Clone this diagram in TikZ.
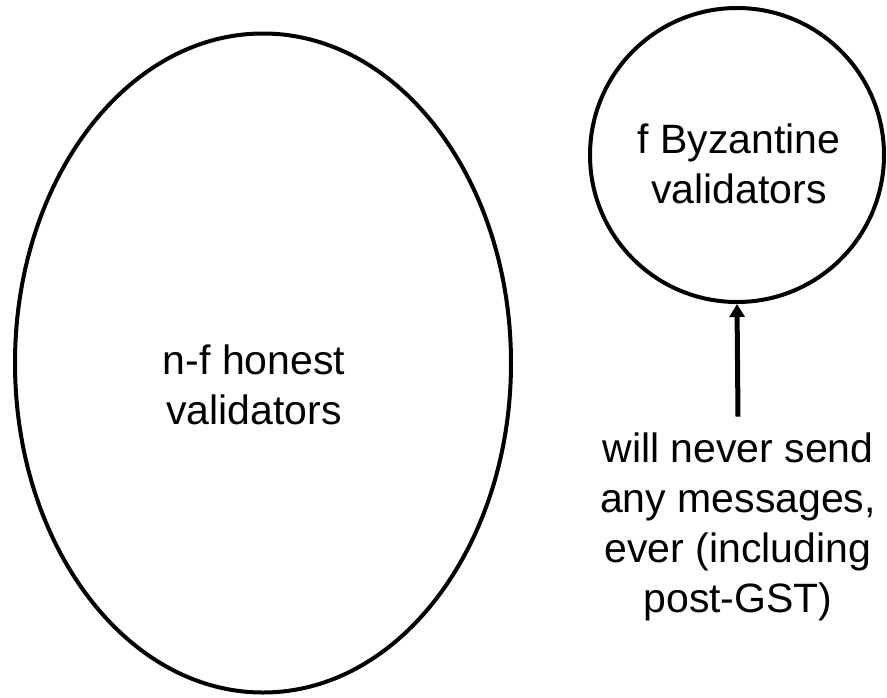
\documentclass[tikz,border=0pt]{standalone}
\usepackage{fontspec}
\setmainfont{Liberation Sans}
\usetikzlibrary{arrows.meta,positioning,shapes.geometric}

\begin{document}
\begin{tikzpicture}[x=1pt, y=-1pt,
  gbox/.style={ellipse, draw=black, line width=4pt,
               minimum width=496pt, minimum height=659pt, inner sep=0pt},
  bbox/.style={circle, draw=black, line width=4pt,
               minimum size=294pt, inner sep=0pt},
  ltext/.style={font=\fontsize{41pt}{50pt}\selectfont, align=center},
  narr/.style={-{Triangle[length=13pt,width=15pt]}, line width=5pt}
]
\useasboundingbox (0,0) rectangle (887,697);

% Validator sets
\node[gbox] (hon) at (263,363) {};
\node[ltext] (honlbl) at (254,385) {n-f honest\\validators};
\node[bbox] (byz) at (737,155) {};
\node[ltext] (byzlbl) at (739,164) {f Byzantine\\validators};

% Note on the Byzantine ones
\node[ltext, inner sep=16pt] (note) at (738,527) {will never send\\any messages,\\ever (including\\post-GST)};
\draw[narr] (note.north) -- (byz.south);
\end{tikzpicture}
\end{document}
